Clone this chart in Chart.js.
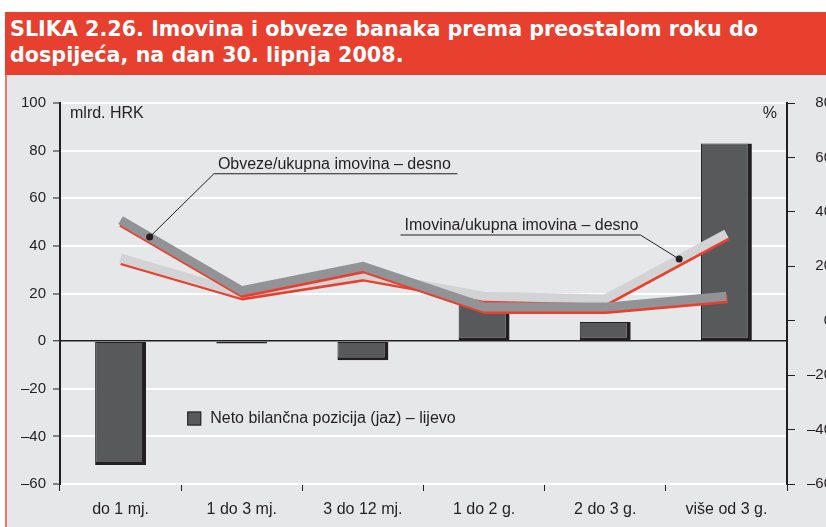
<!DOCTYPE html>
<html>
<head>
<meta charset="utf-8">
<script src="https://cdn.jsdelivr.net/npm/chart.js@4.4.1/dist/chart.umd.min.js"></script>
<style>
  html, body { margin:0; padding:0; background:#fff; width:826px; height:527px; overflow:hidden; }
  #title {
    position:absolute; left:5px; top:12px; width:821px; height:63px;
    background:#E8402F; color:#fff; box-sizing:border-box; padding:4px 0 0 5px;
    font:bold 20.7px "DejaVu Sans", "Liberation Sans", Arial, sans-serif; line-height:26px;
    white-space:nowrap;
  }
  #panel {
    position:absolute; left:5px; top:75px; width:821px; height:452px;
    background:#E6E7E8; border-left:2px solid #EF7668; box-sizing:border-box;
  }
  #chart { position:absolute; left:0; top:76px; }
</style>
</head>
<body>
<div id="title">SLIKA 2.26. Imovina i obveze banaka prema preostalom roku do<br>dospijeća, na dan 30. lipnja 2008.</div>
<div id="panel"></div>
<canvas id="chart" width="832" height="451"></canvas>
<script>
// podaci
const categories = ["do 1 mj.", "1 do 3 mj.", "3 do 12 mj.", "1 do 2 g.", "2 do 3 g.", "više od 3 g."];
const netoJaz = [-52, -1, -8, 17, 8, 83];            // mlrd. HRK, lijevo
const obvezeUdio = [37, 11, 20, 5, 5, 9];            // %, desno
const imovinaUdio = [23, 10, 17, 9, 8, 32];          // %, desno
const leftTicks = {min:-60, max:100, step:20};
const rightTicks = {min:-60, max:80, step:20};

const INK = "#231F20";
const RED = "#E8402F";
const FONT = '"Liberation Sans", Arial, sans-serif';

const dash = v => v < 0 ? "\u2013" + Math.abs(v) : String(v);

// crvena "sjena" ispod debelih linija
const shadowPlugin = {
  id:"redShadow",
  beforeDatasetDraw(chart, args){
    if(args.meta.type !== "line") return;
    const ctx = chart.ctx;
    ctx.save();
    ctx.shadowColor = RED;
    ctx.shadowBlur = 0;
    ctx.shadowOffsetX = 1;
    ctx.shadowOffsetY = 2.5;
  },
  afterDatasetDraw(chart, args){
    if(args.meta.type !== "line") return;
    chart.ctx.restore();
  }
};

// natpisi, pokazivači i legenda
const labelPlugin = {
  id:"labels",
  afterDraw(chart){
    const ctx = chart.ctx;
    const x = chart.scales.x, yr = chart.scales.y1, area = chart.chartArea;
    ctx.save();
    ctx.fillStyle = INK;
    ctx.font = "16px " + FONT;
    ctx.textBaseline = "middle";
    ctx.textAlign = "left";
    ctx.fillText("mlrd. HRK", area.left + 10, area.top + 11);
    ctx.textAlign = "right";
    ctx.fillText("%", area.right - 10, area.top + 11);

    // pokazivač na liniju (točka između dvije vrijednosti)
    function pointer(metaIdx, i, t, text, lx0, lx1, ly, textRight){
      const pts = chart.getDatasetMeta(metaIdx).data;
      const px = pts[i].x + (pts[i+1].x - pts[i].x) * t;
      const py = pts[i].y + (pts[i+1].y - pts[i].y) * t;
      const ax0 = x.getPixelForValue(lx0), ax1 = x.getPixelForValue(lx1);
      const ay = yr.getPixelForValue(ly);
      ctx.strokeStyle = INK;
      ctx.lineWidth = 1;
      ctx.beginPath();
      if(textRight){
        ctx.moveTo(px, py); ctx.lineTo(ax0, ay); ctx.lineTo(ax1, ay);
      } else {
        ctx.moveTo(ax0, ay); ctx.lineTo(ax1, ay); ctx.lineTo(px, py);
      }
      ctx.stroke();
      ctx.beginPath();
      ctx.arc(px, py, 3.5, 0, Math.PI*2);
      ctx.fill();
      ctx.textAlign = "left";
      ctx.textBaseline = "alphabetic";
      ctx.fillText(text, ax0 + 4, ay - 5);
    }
    pointer(2, 0, 0.24, "Obveze/ukupna imovina \u2013 desno", 0.77, 2.78, 54, true);
    pointer(1, 4, 0.61, "Imovina/ukupna imovina \u2013 desno", 2.31, 4.29, 31.5, false);

    // legenda za stupce
    const ds = chart.data.datasets[0];
    const lx = x.getPixelForValue(0.55), ly = chart.scales.y.getPixelForValue(-32.5);
    ctx.fillStyle = ds.backgroundColor;
    ctx.fillRect(lx, ly - 7, 14, 14);
    ctx.strokeStyle = INK;
    ctx.strokeRect(lx + 0.5, ly - 6.5, 13, 13);
    ctx.fillStyle = INK;
    ctx.textBaseline = "middle";
    ctx.fillText(ds.label, lx + 23, ly);
    ctx.restore();
  }
};

new Chart(document.getElementById("chart"), {
  data:{
    labels:categories,
    datasets:[
      {
        type:"bar", label:"Neto bilančna pozicija (jaz) \u2013 lijevo", data:netoJaz, yAxisID:"y",
        backgroundColor:"#58595B", borderColor:INK, borderSkipped:false,
        borderWidth:{top:1, left:1, right:4, bottom:3},
        categoryPercentage:1, barPercentage:0.42, order:2
      },
      {
        type:"line", label:"Imovina/ukupna imovina \u2013 desno", data:imovinaUdio, yAxisID:"y1",
        borderColor:"#D2D3D5", borderWidth:9, pointRadius:0, tension:0,
        borderCapStyle:"butt", borderJoinStyle:"miter", order:1
      },
      {
        type:"line", label:"Obveze/ukupna imovina \u2013 desno", data:obvezeUdio, yAxisID:"y1",
        borderColor:"#929396", borderWidth:9, pointRadius:0, tension:0,
        borderCapStyle:"butt", borderJoinStyle:"miter", order:0
      }
    ]
  },
  options:{
    responsive:false,
    animation:false,
    devicePixelRatio:1,
    layout:{padding:{top:27, left:0, right:0, bottom:0}},
    plugins:{legend:{display:false}, tooltip:{enabled:false}},
    scales:{
      x:{
        offset:true,
        grid:{offset:true, drawOnChartArea:false, drawTicks:true, tickLength:7, tickColor:INK},
        border:{display:false},
        ticks:{color:INK, font:{family:FONT, size:16}, padding:9, maxRotation:0},
        afterFit(s){ s.height = 43; }
      },
      y:{
        position:"left",
        min:leftTicks.min, max:leftTicks.max,
        ticks:{stepSize:leftTicks.step, color:INK, font:{family:FONT, size:15}, padding:7, callback:dash},
        grid:{
          color:c => c.tick && c.tick.value === 0 ? INK : "#FFFFFF",
          lineWidth:c => c.tick && c.tick.value === 0 ? 1.5 : 2,
          tickColor:INK, tickLength:7, tickWidth:1
        },
        border:{color:INK, width:2},
        afterFit(s){ s.width = 60; }
      },
      y1:{
        position:"right",
        min:rightTicks.min, max:rightTicks.max,
        ticks:{stepSize:rightTicks.step, color:INK, font:{family:FONT, size:15}, padding:10, crossAlign:"far", callback:dash},
        grid:{drawOnChartArea:false, tickColor:INK, tickLength:8, tickWidth:1},
        border:{color:INK, width:2},
        afterFit(s){ s.width = 45; }
      }
    }
  },
  plugins:[shadowPlugin, labelPlugin]
});
</script>
</body>
</html>
